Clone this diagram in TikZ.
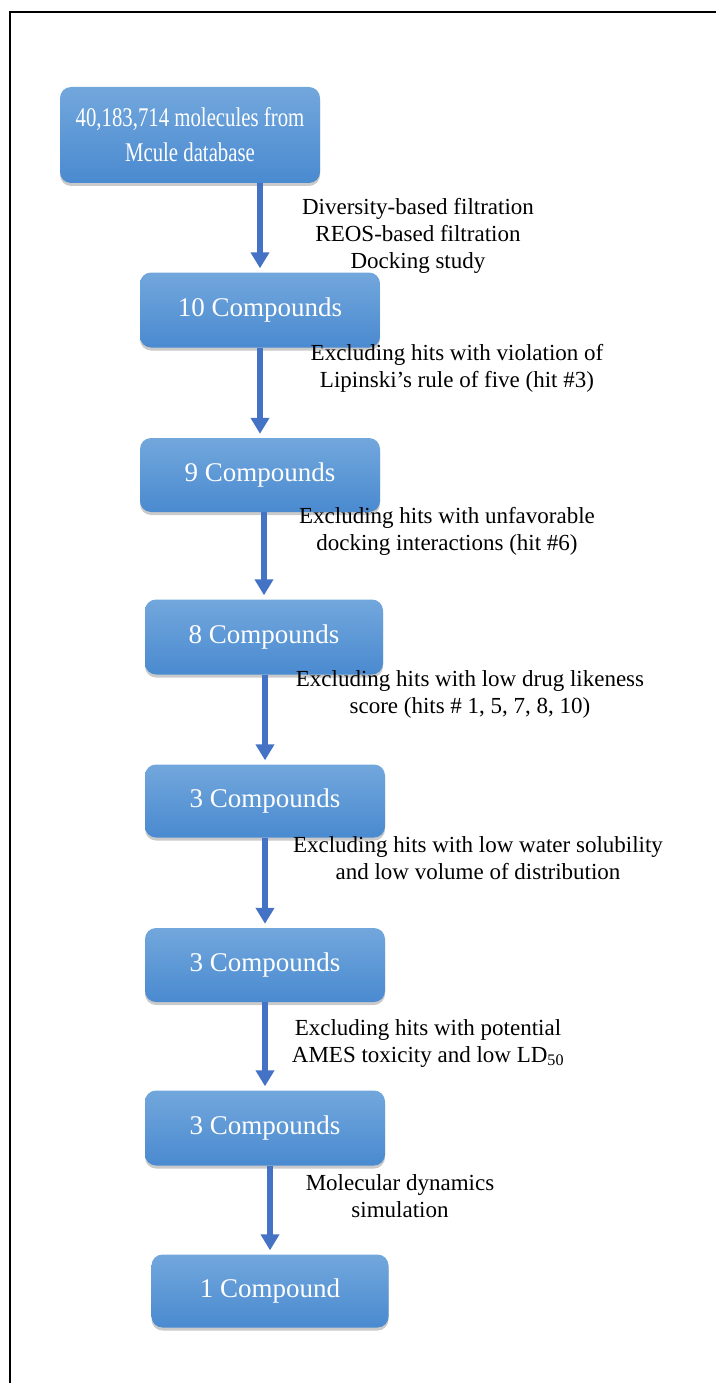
\documentclass[tikz,border=0pt]{standalone}
\usepackage{fontspec}
\setmainfont{Liberation Serif}
\newfontfamily\narrowserif[FakeStretch=0.77]{Liberation Serif}
\usetikzlibrary{shadows,arrows.meta}
\definecolor{boxtop}{HTML}{72A7DC}
\definecolor{boxbot}{HTML}{4A8AD0}
\definecolor{arr}{HTML}{4472C4}
\tikzset{
  flowbox/.style={rounded corners=11pt, top color=boxtop, bottom color=boxbot, draw=none,
    text=white, font=\fontsize{27}{33}\selectfont, align=center, inner sep=0pt,
    drop shadow={shadow xshift=0pt, shadow yshift=-3pt, opacity=0.35, fill=black!60}},
  lbl/.style={font=\fontsize{23}{27}\selectfont, align=center, inner sep=0pt, text=black},
  flowarrow/.style={draw=arr, line width=5.5pt, -{Triangle[width=18pt,length=16pt]}, shorten >=4pt}
}
\begin{document}
\begin{tikzpicture}[x=1pt,y=-1pt]
\useasboundingbox (0,0) rectangle (716,1383);
\draw[line width=2pt] (10,1383) -- (10,12) -- (716,12);
\node[flowbox, minimum width=260pt, minimum height=96pt, font=\narrowserif\fontsize{27}{35}\selectfont] (b1) at (190,135) {40,183,714 molecules from\\Mcule database};
\node[flowbox, minimum width=240pt, minimum height=75pt] (b2) at (260,310) {10 Compounds};
\node[flowbox, minimum width=240pt, minimum height=74pt] (b3) at (260,475) {9 Compounds};
\node[flowbox, minimum width=238pt, minimum height=75pt] (b4) at (264,637) {8 Compounds};
\node[flowbox, minimum width=240pt, minimum height=73pt] (b5) at (265,801) {3 Compounds};
\node[flowbox, minimum width=240pt, minimum height=74pt] (b6) at (265,965) {3 Compounds};
\node[flowbox, minimum width=240pt, minimum height=75pt] (b7) at (265,1128) {3 Compounds};
\node[flowbox, minimum width=237pt, minimum height=73pt] (b8) at (270,1291) {1 Compound};
\node[lbl] (l1) at (418,236) {Diversity-based filtration\\REOS-based filtration\\Docking study};
\node[lbl] (l2) at (457,368) {Excluding hits with violation of\\Lipinski’s rule of five (hit \#3)};
\node[lbl] (l3) at (447,531) {Excluding hits with unfavorable\\docking interactions (hit \#6)};
\node[lbl] (l4) at (470,694) {Excluding hits with low drug likeness\\score (hits \# 1, 5, 7, 8, 10)};
\node[lbl] (l5) at (478,858) {Excluding hits with low water solubility\\and low volume of distribution};
\node[lbl] (l6) at (428,1043) {Excluding hits with potential\\AMES toxicity and low LD\textsubscript{50}};
\node[lbl] (l7) at (400,1196) {Molecular dynamics\\simulation};
\draw[flowarrow] (b2.north |- b1.south) -- (b2.north);
\draw[flowarrow] (b3.north |- b2.south) -- (b3.north);
\draw[flowarrow] (b4.north |- b3.south) -- (b4.north);
\draw[flowarrow] (b5.north |- b4.south) -- (b5.north);
\draw[flowarrow] (b6.north |- b5.south) -- (b6.north);
\draw[flowarrow] (b7.north |- b6.south) -- (b7.north);
\draw[flowarrow] (b8.north |- b7.south) -- (b8.north);
\end{tikzpicture}
\end{document}
